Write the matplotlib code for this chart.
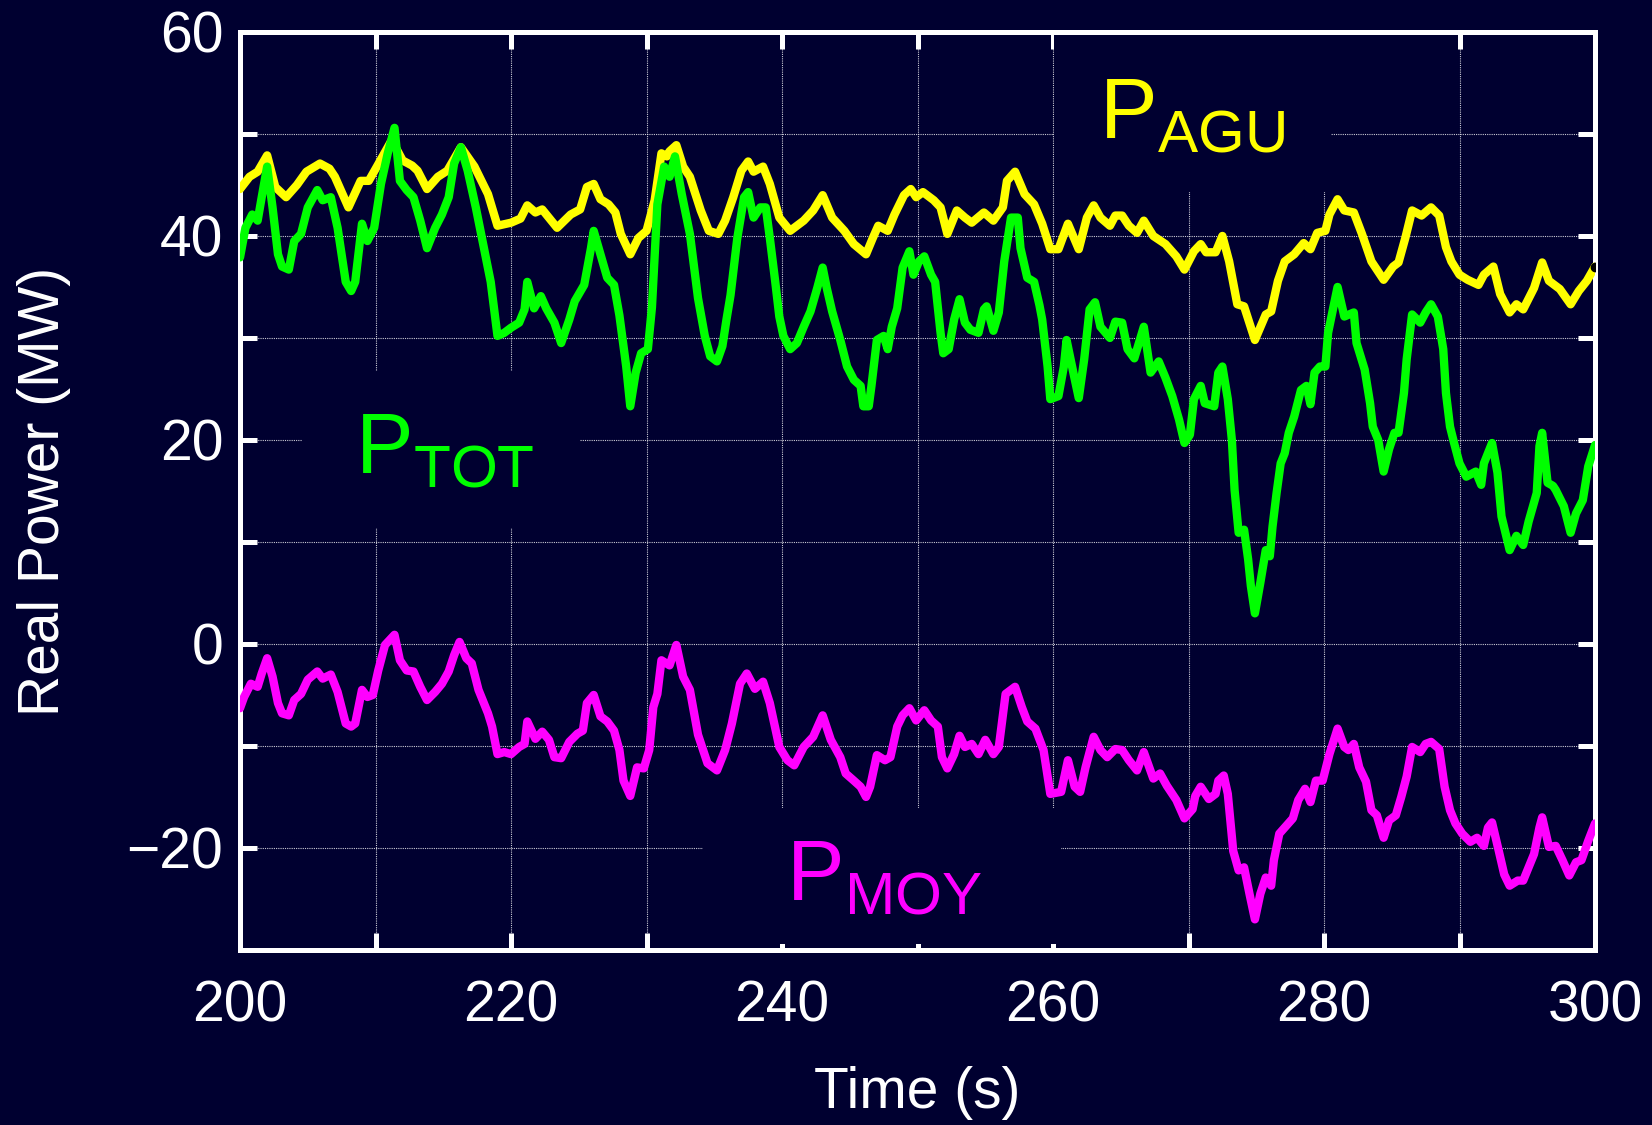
import matplotlib
matplotlib.use('Agg')
import matplotlib.pyplot as plt
from matplotlib.patches import Rectangle
from matplotlib.ticker import MultipleLocator

plt.rcParams['font.family'] = ['Liberation Sans', 'DejaVu Sans']
plt.rcParams['mathtext.fontset'] = 'custom'
plt.rcParams['mathtext.rm'] = 'Liberation Sans'

# P_AGU (yellow)
t_agu = [200.0, 200.7, 201.3, 202.0, 202.6, 203.4, 204.2, 204.9, 205.9, 206.6, 207.0, 208.0, 208.9, 209.5,
         210.1, 210.9, 211.2, 212.0, 212.7, 213.1, 213.8, 214.6, 215.3, 216.3, 217.3, 218.3, 219.0, 220.0,
         220.7, 221.2, 221.8, 222.3, 223.4, 224.4, 225.1, 225.6, 226.1, 226.6, 227.2, 227.7, 228.1, 228.8,
         229.4, 230.0, 230.6, 231.1, 231.5, 231.7, 232.2, 232.7, 233.2, 234.0, 234.6, 235.3, 235.8, 236.4,
         237.0, 237.5, 237.9, 238.6, 239.1, 239.8, 240.6, 241.6, 242.3, 243.0, 243.7, 244.6, 245.3, 246.2,
         246.7, 247.1, 247.8, 248.3, 249.0, 249.5, 249.9, 250.4, 251.2, 251.7, 252.2, 252.9, 253.5, 254.0,
         254.9, 255.6, 256.3, 256.6, 257.2, 257.9, 258.6, 259.2, 259.8, 260.4, 261.1, 261.9, 262.5, 263.0,
         263.5, 264.2, 264.6, 265.1, 265.6, 266.2, 266.7, 267.4, 268.3, 269.1, 269.7, 270.4, 270.9, 271.3,
         272.0, 272.5, 273.0, 273.6, 274.1, 274.9, 275.7, 276.1, 276.6, 277.1, 277.8, 278.5, 279.0, 279.5,
         280.1, 280.4, 281.0, 281.5, 282.2, 282.8, 283.5, 284.4, 285.1, 285.5, 286.0, 286.5, 287.2, 287.9,
         288.5, 289.0, 289.4, 290.0, 290.6, 291.4, 291.8, 292.5, 293.0, 293.7, 294.2, 294.7, 295.5, 296.1,
         296.6, 297.4, 298.2, 298.8, 299.4, 300.0]
p_agu = [44.6, 45.8, 46.3, 47.9, 44.8, 43.8, 45.0, 46.3, 47.1, 46.6, 45.8, 42.8, 45.4, 45.4,
         46.8, 48.7, 49.4, 47.4, 46.9, 46.4, 44.6, 45.8, 46.4, 48.7, 46.8, 44.1, 41.0, 41.3,
         41.7, 43.0, 42.3, 42.6, 40.8, 42.1, 42.6, 44.8, 45.1, 43.6, 43.1, 42.3, 40.2, 38.2,
         39.8, 40.5, 43.5, 48.1, 47.8, 48.3, 48.9, 46.8, 45.8, 42.5, 40.5, 40.2, 41.5, 43.8,
         46.4, 47.3, 46.3, 46.8, 45.1, 41.8, 40.5, 41.5, 42.5, 44.0, 41.8, 40.5, 39.2, 38.2,
         39.8, 41.0, 40.5, 42.1, 44.0, 44.6, 43.8, 44.3, 43.5, 42.8, 40.2, 42.5, 41.8, 41.3,
         42.3, 41.5, 42.8, 45.4, 46.3, 44.1, 43.1, 41.2, 38.7, 38.7, 41.2, 38.7, 41.8, 43.0,
         41.8, 41.0, 42.0, 42.0, 41.0, 40.3, 41.5, 40.0, 39.2, 38.0, 36.7, 38.5, 39.2, 38.4,
         38.4, 40.0, 37.5, 33.3, 33.1, 29.8, 32.3, 32.6, 35.6, 37.5, 38.2, 39.3, 38.7, 40.3,
         40.5, 42.1, 43.6, 42.5, 42.3, 40.2, 37.5, 35.7, 37.0, 37.4, 39.8, 42.5, 42.0, 42.8,
         42.0, 38.9, 37.5, 36.2, 35.7, 35.2, 36.2, 37.0, 34.3, 32.5, 33.3, 32.8, 34.9, 37.4,
         35.6, 34.8, 33.3, 34.6, 35.6, 37.0]

# P_TOT (green)
t_tot = [200.0, 200.4, 200.9, 201.3, 201.6, 202.0, 202.4, 202.8, 203.1, 203.6, 204.0, 204.5, 205.0, 205.7,
         206.1, 206.7, 207.2, 207.8, 208.2, 208.5, 209.0, 209.4, 209.9, 210.4, 210.9, 211.4, 211.8, 212.3,
         212.8, 213.3, 213.8, 214.4, 214.9, 215.4, 215.8, 216.3, 216.8, 217.4, 218.0, 218.5, 219.0, 219.5,
         220.0, 220.6, 221.0, 221.2, 221.7, 222.2, 222.6, 223.2, 223.7, 224.3, 224.7, 225.4, 225.9, 226.1,
         226.6, 227.1, 227.6, 228.0, 228.5, 228.8, 229.2, 229.6, 230.1, 230.4, 230.8, 231.3, 231.7, 232.1,
         232.6, 233.2, 233.8, 234.3, 234.7, 235.2, 235.6, 235.9, 236.2, 236.7, 237.2, 237.5, 237.9, 238.4,
         238.8, 239.1, 239.5, 239.8, 240.1, 240.6, 241.1, 241.6, 242.1, 242.6, 243.0, 243.3, 243.7, 244.3,
         244.8, 245.3, 245.8, 246.0, 246.4, 246.6, 247.0, 247.5, 247.8, 248.1, 248.5, 248.9, 249.4, 249.7,
         250.1, 250.5, 251.0, 251.3, 251.7, 251.9, 252.3, 252.7, 253.1, 253.5, 253.9, 254.5, 254.9, 255.1,
         255.6, 256.0, 256.4, 256.9, 257.4, 257.6, 258.1, 258.6, 259.0, 259.2, 259.6, 259.8, 260.4, 260.8,
         261.0, 261.5, 261.9, 262.3, 262.7, 263.1, 263.5, 264.2, 264.6, 265.1, 265.5, 266.0, 266.7, 267.2,
         267.8, 268.3, 268.8, 269.3, 269.7, 270.1, 270.4, 270.9, 271.2, 271.9, 272.2, 272.5, 272.9, 273.2,
         273.4, 273.7, 274.1, 274.4, 274.6, 274.9, 275.3, 275.7, 276.0, 276.2, 276.5, 276.8, 277.1, 277.4,
         277.8, 278.3, 278.7, 279.0, 279.3, 279.7, 280.1, 280.3, 280.7, 281.0, 281.5, 282.2, 282.4, 283.0,
         283.4, 283.6, 284.0, 284.4, 284.8, 285.2, 285.5, 285.9, 286.1, 286.5, 287.1, 287.5, 287.9, 288.4,
         288.8, 289.0, 289.3, 289.6, 290.0, 290.5, 291.2, 291.6, 291.8, 292.4, 292.8, 293.1, 293.7, 294.2,
         294.7, 295.1, 295.7, 295.9, 296.1, 296.5, 296.9, 297.1, 297.7, 298.2, 298.6, 299.1, 299.5, 300.0]
p_tot = [37.9, 40.8, 42.1, 41.5, 43.8, 46.8, 42.8, 38.2, 37.0, 36.7, 39.5, 40.2, 42.8, 44.5,
         43.5, 43.8, 40.8, 35.5, 34.6, 35.5, 41.2, 39.5, 40.8, 45.1, 48.1, 50.6, 45.4, 44.5,
         43.8, 41.5, 38.8, 40.8, 42.1, 43.8, 47.1, 48.7, 46.4, 42.8, 38.8, 35.5, 30.2, 30.5,
         31.0, 31.5, 32.8, 35.5, 32.9, 34.1, 32.9, 31.5, 29.5, 31.8, 33.6, 35.2, 38.8, 40.5,
         38.2, 35.9, 35.2, 32.2, 27.2, 23.3, 26.6, 28.5, 28.9, 33.0, 43.1, 46.8, 45.8, 47.8,
         44.1, 40.2, 33.9, 30.2, 28.2, 27.7, 29.2, 31.8, 34.2, 39.8, 43.8, 44.3, 41.8, 42.8,
         42.8, 39.8, 35.5, 32.1, 30.2, 28.9, 29.5, 31.1, 32.6, 34.9, 36.9, 34.9, 32.6, 29.8,
         27.2, 25.9, 25.3, 23.3, 23.3, 25.3, 29.8, 30.2, 28.9, 31.1, 32.9, 36.9, 38.5, 36.2,
         37.5, 38.0, 36.2, 35.5, 30.5, 28.5, 28.9, 31.8, 33.8, 31.5, 30.8, 30.5, 32.8, 33.1,
         30.7, 32.5, 37.5, 41.8, 41.8, 38.8, 35.9, 35.5, 33.2, 31.8, 27.2, 24.0, 24.3, 27.2,
         29.8, 26.6, 24.1, 27.9, 32.8, 33.5, 31.1, 30.0, 31.6, 31.5, 28.9, 28.0, 31.1, 26.6,
         27.7, 26.1, 24.3, 22.0, 19.7, 20.5, 24.0, 25.3, 23.6, 23.3, 26.6, 27.2, 24.0, 20.0,
         15.1, 10.9, 11.2, 8.3, 5.7, 3.0, 6.0, 9.2, 8.6, 11.5, 14.8, 17.7, 18.7, 20.7,
         22.3, 24.9, 25.3, 23.5, 26.6, 27.2, 27.2, 30.5, 33.1, 35.0, 32.1, 32.5, 29.5, 26.9,
         23.6, 21.3, 20.0, 16.9, 19.1, 20.7, 20.7, 24.6, 27.9, 32.3, 31.5, 32.5, 33.3, 32.1,
         28.9, 24.6, 21.3, 19.7, 17.7, 16.4, 16.9, 15.6, 17.7, 19.7, 16.8, 12.5, 9.2, 10.6,
         9.7, 12.0, 14.8, 19.4, 20.7, 15.8, 15.5, 15.1, 13.5, 10.9, 12.8, 14.1, 17.4, 19.5]

# P_MOY (magenta)
t_moy = [200.0, 200.3, 200.8, 201.3, 201.6, 202.0, 202.4, 202.8, 203.1, 203.6, 204.0, 204.5, 205.0, 205.7,
         206.1, 206.7, 207.2, 207.8, 208.2, 208.5, 209.0, 209.4, 209.8, 210.2, 210.7, 211.4, 211.8, 212.3,
         212.8, 213.3, 213.8, 214.4, 214.9, 215.4, 215.8, 216.2, 216.7, 217.1, 217.6, 218.3, 218.6, 219.0,
         219.5, 220.0, 220.6, 221.0, 221.2, 221.8, 222.3, 222.8, 223.2, 223.7, 224.3, 224.9, 225.3, 225.6,
         226.1, 226.6, 227.1, 227.6, 228.0, 228.3, 228.8, 229.3, 229.8, 230.2, 230.5, 230.8, 231.1, 231.7,
         232.2, 232.7, 233.2, 233.8, 234.5, 235.2, 235.8, 236.3, 236.9, 237.4, 238.0, 238.6, 239.1, 239.8,
         240.4, 240.9, 241.6, 242.3, 243.0, 243.6, 244.3, 244.7, 245.3, 245.8, 246.2, 246.5, 247.0, 247.6,
         248.0, 248.5, 248.9, 249.4, 249.9, 250.5, 251.0, 251.5, 251.8, 252.2, 252.7, 253.1, 253.5, 254.0,
         254.5, 255.0, 255.6, 256.0, 256.5, 257.2, 257.7, 258.1, 258.7, 259.3, 259.8, 260.6, 261.1, 261.6,
         262.0, 262.4, 263.0, 263.5, 264.0, 264.6, 265.1, 265.6, 266.2, 266.7, 267.4, 267.9, 268.4, 269.1,
         269.7, 270.3, 270.5, 270.9, 271.5, 272.0, 272.2, 272.6, 272.9, 273.3, 273.7, 274.1, 274.5, 274.9,
         275.3, 275.7, 276.1, 276.3, 276.7, 277.1, 277.7, 278.1, 278.6, 279.0, 279.4, 279.9, 280.4, 281.0,
         281.5, 281.8, 282.2, 282.6, 283.1, 283.5, 283.9, 284.4, 284.8, 285.3, 285.7, 286.1, 286.5, 287.1,
         287.5, 287.9, 288.5, 288.9, 289.3, 289.7, 290.2, 290.8, 291.3, 291.8, 292.1, 292.4, 292.9, 293.3,
         293.7, 294.3, 294.7, 295.1, 295.5, 295.9, 296.1, 296.6, 297.1, 297.6, 298.1, 298.6, 299.0, 299.5,
         300.0]
p_moy = [-6.3, -5.2, -3.9, -4.2, -2.9, -1.4, -3.2, -5.8, -6.8, -7.0, -5.5, -4.9, -3.5, -2.7,
         -3.4, -3.0, -4.7, -7.8, -8.1, -7.8, -4.5, -5.2, -5.0, -2.6, -0.1, 0.9, -1.6, -2.6,
         -2.7, -4.2, -5.5, -4.7, -3.9, -2.7, -1.1, 0.2, -1.4, -1.9, -4.5, -6.8, -8.1, -10.8,
         -10.6, -10.8, -10.1, -9.8, -7.6, -9.3, -8.6, -9.4, -11.1, -11.2, -9.6, -8.8, -8.5, -5.8,
         -5.0, -7.1, -7.6, -8.5, -10.4, -13.4, -14.9, -12.1, -12.2, -10.4, -6.2, -4.9, -1.6, -2.1,
         -0.1, -3.2, -4.5, -8.9, -11.7, -12.4, -10.4, -7.8, -3.9, -2.9, -4.4, -3.7, -5.8, -10.1,
         -11.4, -11.9, -10.1, -9.1, -7.0, -9.4, -11.1, -12.7, -13.4, -14.0, -15.0, -14.0, -10.9, -11.4,
         -11.1, -8.1, -7.0, -6.3, -7.5, -6.5, -7.5, -8.1, -11.1, -12.2, -10.8, -9.0, -10.1, -9.8,
         -10.8, -9.4, -10.8, -10.1, -4.9, -4.2, -6.2, -7.6, -8.3, -10.4, -14.7, -14.5, -11.4, -14.0,
         -14.5, -12.1, -9.1, -10.4, -11.1, -10.3, -10.4, -11.4, -12.4, -10.6, -13.2, -12.7, -13.9, -15.3,
         -17.1, -16.2, -14.9, -14.0, -15.2, -14.7, -13.4, -12.9, -14.7, -20.3, -22.2, -21.9, -24.5, -27.0,
         -24.5, -22.9, -23.7, -21.2, -18.6, -18.0, -17.1, -15.3, -14.2, -15.5, -13.4, -13.4, -10.8, -8.3,
         -10.1, -10.4, -9.8, -12.1, -13.5, -16.3, -16.8, -19.0, -17.3, -16.8, -15.0, -13.0, -10.1, -10.6,
         -9.8, -9.6, -10.3, -14.0, -16.3, -17.6, -18.6, -19.4, -19.0, -19.8, -18.0, -17.5, -20.3, -22.6,
         -23.7, -23.2, -23.2, -21.9, -20.6, -18.0, -17.0, -19.9, -19.8, -21.2, -22.7, -21.4, -21.2, -19.3,
         -17.6]

bg = '#000030'
fig = plt.figure(figsize=(16.52, 11.25), dpi=100, facecolor=bg)
ax = fig.add_axes([0.1453, 0.1556, 0.8202, 0.816])
ax.set_facecolor(bg)

ax.plot(t_agu, p_agu, color='#ffff00', lw=6, zorder=3, solid_joinstyle='round', solid_capstyle='round')
ax.plot(t_tot, p_tot, color='#00ff00', lw=6, zorder=3, solid_joinstyle='round', solid_capstyle='round')
ax.plot(t_moy, p_moy, color='#ff00ff', lw=6, zorder=3, solid_joinstyle='round', solid_capstyle='round')
ax.plot(t_agu[-1:], p_agu[-1:], 'o', color='black', ms=6, zorder=4)

# boxes behind the curve labels that hide the grid
for x0, x1, y0, y1 in [(260.1, 280.5, 44.3, 59.7), (204.6, 225.1, 11.4, 26.8), (234.2, 260.6, -29.4, -16.1)]:
    ax.add_patch(Rectangle((x0, y0), x1 - x0, y1 - y0, facecolor=bg, edgecolor='none', zorder=2))

ax.text(263.4, 49.6, r'$\mathrm{P}_{\mathrm{AGU}}$', color='#ffff00', fontsize=62, va='baseline', zorder=4)
ax.text(208.5, 16.7, r'$\mathrm{P}_{\mathrm{TOT}}$', color='#00ff00', fontsize=62, va='baseline', zorder=4)
ax.text(240.3, -25.1, r'$\mathrm{P}_{\mathrm{MOY}}$', color='#ff00ff', fontsize=62, va='baseline', zorder=4)

ax.set_xlim(200, 300)
ax.set_ylim(-30, 60)
ax.xaxis.set_major_locator(MultipleLocator(20))
ax.xaxis.set_minor_locator(MultipleLocator(10))
ax.yaxis.set_major_locator(MultipleLocator(20))
ax.yaxis.set_minor_locator(MultipleLocator(10))
ax.tick_params(which='both', direction='in', top=True, right=True, length=12, width=3.6, color='white')
ax.tick_params(axis='x', which='major', labelsize=41, labelcolor='white', pad=21)
ax.tick_params(axis='y', which='major', labelsize=41, labelcolor='white', pad=12)
ax.grid(True, which='both', color='white', lw=0.8, ls=(0, (1, 1)), alpha=0.8)
for s in ax.spines.values():
    s.set_color('white')
    s.set_linewidth(3.6)

ax.set_xlabel('Time (s)', fontsize=41, color='white', labelpad=24)
ax.set_ylabel('Real Power (MW)', fontsize=41, color='white', labelpad=40)

fig.savefig('out.png', dpi=100, facecolor=bg)
